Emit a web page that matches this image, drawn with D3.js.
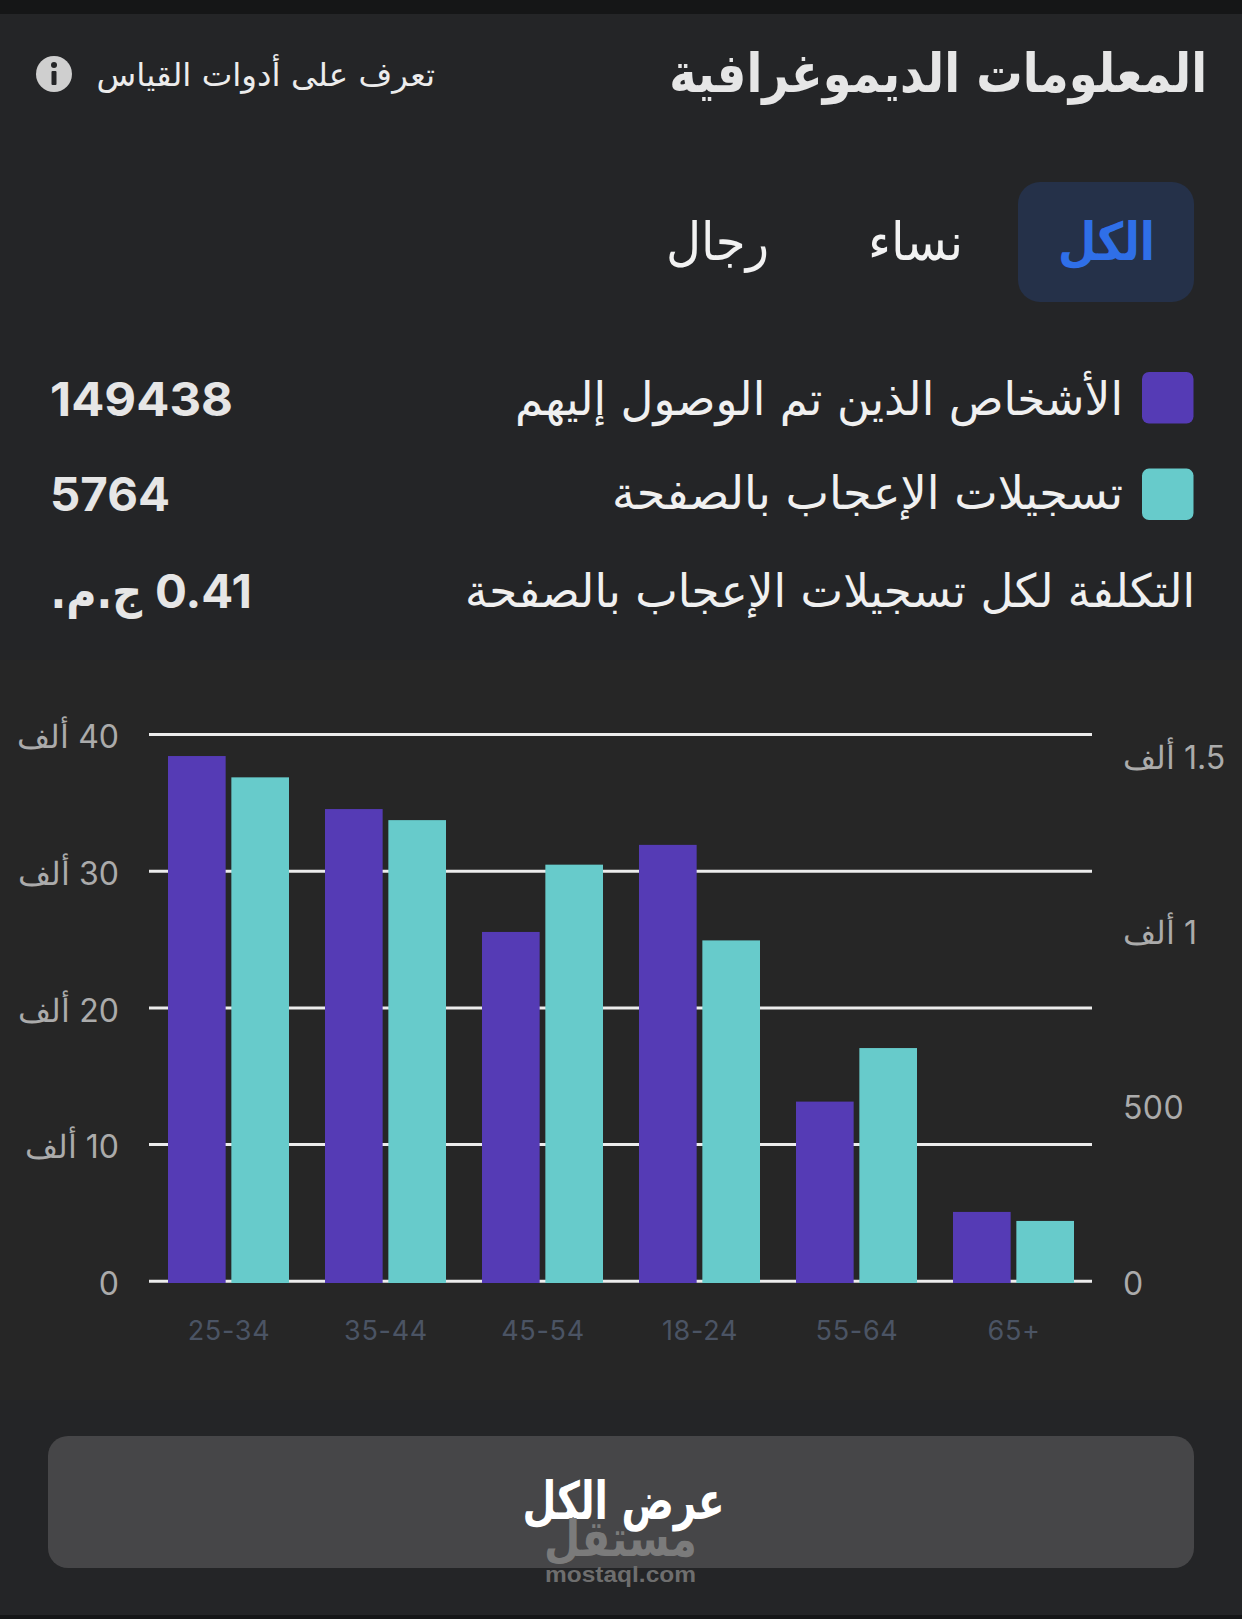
<!DOCTYPE html>
<html lang="ar"><head><meta charset="utf-8">
<script src="https://cdn.jsdelivr.net/npm/d3@7/dist/d3.min.js"></script>
<style>
html,body{margin:0;padding:0;background:#242527}
svg{display:block}
text{font-family:"DejaVu Sans",sans-serif}
.num{font-family:Inter,Roboto,sans-serif}
</style></head><body><svg id="c" width="1242" height="1619"></svg>
<script>
const categories=["25-34","35-44","45-54","18-24","55-64","65+"];
const reached=[38550,34670,25680,32050,13270,5200];
const likes=[1442,1320,1193,977,670,177];
const seriesNames=["الأشخاص الذين تم الوصول إليهم","تسجيلات الإعجاب بالصفحة"];
const seriesTotals=["149438","5764"];
const seriesColors=["#553bb5","#67cbcb"];
const leftTicks=[0,10000,20000,30000,40000];
const rightTicks=[0,500,1000,1500];
const tabs=["الكل","نساء","رجال"];
const title="المعلومات الديموغرافية";
const linkText="تعرف على أدوات القياس";
const costName="التكلفة لكل تسجيلات الإعجاب بالصفحة";
const costValue="0.41";
const costUnit="ج.م.";
const buttonText="عرض الكل";

const svg=d3.select("#c");
svg.append("rect").attr("width",1242).attr("height",14).attr("fill","#151617");
svg.append("rect").attr("y",660).attr("width",1242).attr("height",740).attr("fill","#262626");
svg.append("rect").attr("y",1615).attr("width",1242).attr("height",4).attr("fill","#151617");

function ar(base,str,size,weight,color,left,right){
  return svg.append("text").attr("x",right).attr("y",base).attr("direction","rtl")
    .attr("text-anchor","start").attr("font-size",size).attr("font-weight",weight).attr("fill",color).text(str)
    .attr("textLength",right-left).attr("lengthAdjust","spacingAndGlyphs");
}
const titleText=svg.append("text").attr("direction","rtl").attr("text-anchor","start").attr("font-size",54)
  .attr("font-weight",700).attr("fill","#e6e6e6").text(title);
titleText.attr("transform",`translate(1207,92) scale(${538/titleText.node().getComputedTextLength()},1)`);
ar(86,linkText,32,400,"#ececec",96.5,435);
svg.append("circle").attr("cx",54).attr("cy",74).attr("r",18).attr("fill","#cfcfcf");
svg.append("circle").attr("cx",54).attr("cy",65).attr("r",3).attr("fill","#242527");
svg.append("rect").attr("x",51.5).attr("y",71).attr("width",5).attr("height",14).attr("rx",1).attr("fill","#242527");

svg.append("rect").attr("x",1018).attr("y",182).attr("width",176).attr("height",120).attr("rx",22).attr("fill","#253149");
ar(260,tabs[0],52,700,"#2f6fe8",1058,1155);
ar(260,tabs[1],52,400,"#f2f2f2",868,963);
ar(260,tabs[2],52,400,"#f2f2f2",666,769);

const rowsY=[372,468.6];
const nameBox=[[515,1123,415],[612,1123,509]];
const totalWidths=[183,120];
seriesNames.forEach((n,i)=>{
  svg.append("rect").attr("x",1142).attr("y",rowsY[i]).attr("width",51.5).attr("height",51.5).attr("rx",7).attr("fill",seriesColors[i]);
  ar(nameBox[i][2],n,46,400,"#f0f0f0",nameBox[i][0],nameBox[i][1]);
  svg.append("text").attr("class","num").attr("x",50).attr("y",[415.5,511.4][i]).attr("font-size",46).attr("font-weight",700).attr("fill","#e6e6e6")
    .attr("textLength",totalWidths[i]).attr("lengthAdjust","spacingAndGlyphs").text(seriesTotals[i]);
});
ar(607,costName,46,400,"#f0f0f0",465,1195);
svg.append("text").attr("class","num").attr("x",155).attr("y",608).attr("font-size",46).attr("font-weight",700).attr("fill","#e6e6e6")
  .attr("textLength",97).attr("lengthAdjust","spacingAndGlyphs").text(costValue);
ar(608,costUnit,46,700,"#e6e6e6",50.5,142);

const gridOffset=-1.7;
const x0=d3.scaleBand().domain(categories).range([149.5,1091.5]);
const x1=d3.scaleBand().domain([0,1]).range([18.5,139.5]).paddingInner(0.09);
const yL=d3.scaleLinear().domain([0,40000]).range([1283,736.2]);
const yR=d3.scaleLinear().domain([0,1500]).range([1283,757]);
const fmtL=v=>v===0?"0":(v/1000)+" ألف";
const fmtR=v=>v===0?"0":v<1000?String(v):(v/1000)+" ألف";

const gl=svg.append("g").attr("transform","translate(149,0)")
  .call(d3.axisLeft(yL).tickValues(leftTicks).tickSize(-943).tickFormat(fmtL).offset(0));
gl.select(".domain").remove();
gl.selectAll("line").attr("y1",gridOffset).attr("y2",gridOffset).attr("stroke","#ececec").attr("stroke-width",3);
gl.selectAll("text").attr("class","num").attr("x",-30).attr("dy","0.38em").attr("direction","rtl").attr("text-anchor","start")
  .attr("font-size",32).attr("fill","#ababab");

const gr=svg.append("g").attr("transform","translate(1123,0)")
  .call(d3.axisRight(yR).tickValues(rightTicks).tickSize(0).tickPadding(0).tickFormat(fmtR).offset(0));
gr.select(".domain").remove();
gr.selectAll("text").attr("class","num").attr("x",0).attr("dy","0.36em").attr("direction","rtl").attr("text-anchor","end")
  .attr("font-size",32).attr("letter-spacing",0.4).attr("fill","#ababab");

const gx=svg.append("g").attr("transform","translate(1,1340)")
  .call(d3.axisBottom(x0).tickSize(0).tickPadding(0).offset(0));
gx.select(".domain").remove();
gx.selectAll("text").attr("class","num").attr("y",0).attr("dy",0).attr("font-size",27).attr("letter-spacing",0.7).attr("fill","#4b5464");

const groups=svg.append("g").selectAll("g").data(categories).join("g").attr("transform",c=>`translate(${x0(c)},0)`);
groups.append("rect").attr("x",x1(0)).attr("width",x1.bandwidth()).attr("y",(c,i)=>yL(reached[i])).attr("height",(c,i)=>yL(0)-yL(reached[i])).attr("fill",seriesColors[0]);
groups.append("rect").attr("x",x1(1)).attr("width",x1.bandwidth()).attr("y",(c,i)=>yR(likes[i])).attr("height",(c,i)=>yR(0)-yR(likes[i])).attr("fill",seriesColors[1]);

svg.append("rect").attr("x",48).attr("y",1436).attr("width",1146).attr("height",132).attr("rx",20).attr("fill","#464648");
ar(1519,buttonText,52,700,"#ffffff",522.5,724.6);
ar(1556,"مستقل",50,700,"#7b7b7b",544,697);
svg.append("text").attr("x",545).attr("y",1582).attr("font-size",22).attr("font-weight",700).attr("fill","#6e6e6e")
  .attr("textLength",151).attr("lengthAdjust","spacingAndGlyphs").style("font-family","'Liberation Sans'").text("mostaql.com");
</script></body></html>
